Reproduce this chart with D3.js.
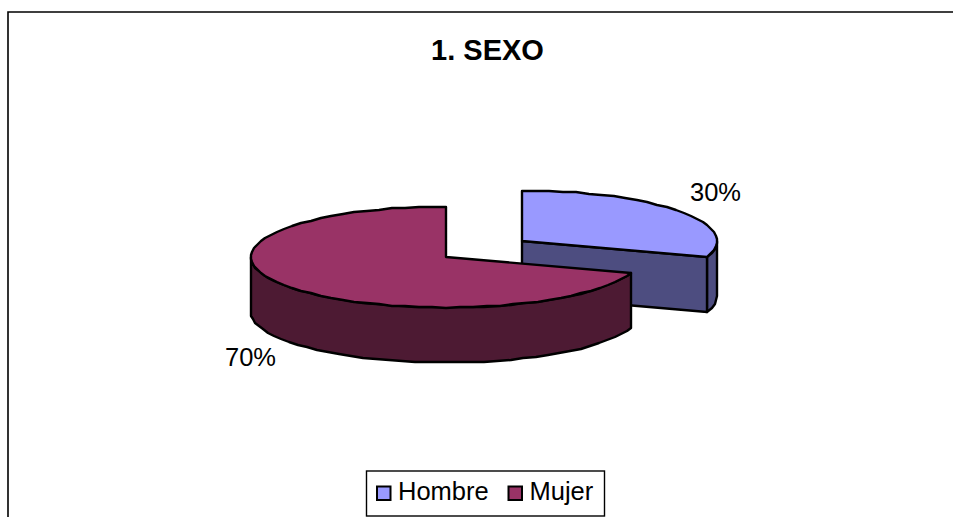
<!DOCTYPE html>
<html><head><meta charset="utf-8">
<script src="https://cdn.jsdelivr.net/npm/d3@7"></script>
<style>html,body{margin:0;background:#fff}svg{display:block}text{font-family:"Liberation Sans",Arial,sans-serif;fill:#000}</style>
</head><body><svg id="c" width="953" height="517"></svg>
<script>
const title = "1. SEXO";
const categories = ["Hombre", "Mujer"];
const values = [30, 70];
const labels = ["30%", "70%"];
const topColors = ["#9999ff", "#993366"];
const sideColors = ["#4d4d80", "#4d1a33"];

const svg = d3.select("#c");
svg.append("path").attr("d", "M8,517V12H953").attr("fill", "none")
  .attr("stroke", "#000").attr("stroke-width", 1.6);
svg.append("text").attr("x", 487.5).attr("y", 60).attr("text-anchor", "middle")
  .attr("font-weight", "bold").attr("font-size", 29).text(title);

const rx = 195, ry = 50.5, depth = 55;
const centers = [[522, 241], [446, 257]];
const arcs = d3.pie().sort(null).value(d => d)(values);
const line = d3.line().curve(d3.curveLinear);
const project = (c, a, dz = 0) => [Math.round(c[0] + rx * Math.sin(a)), Math.round(c[1] - ry * Math.cos(a)) + dz];
const sample = (a0, a1) => {
  const n = Math.max(2, Math.round(Math.abs(a1 - a0) / 0.07));
  return d3.range(n + 1).map(i => a0 + (a1 - a0) * i / n);
};
const stroke = g => g.attr("stroke", "#000").attr("stroke-width", 2.4).attr("stroke-linejoin", "round");

arcs.forEach((d, i) => {
  const c = centers[i], g = svg.append("g");
  const a0 = d.startAngle, a1 = d.endAngle;
  const paths = [];
  if (i === 0) {
    const s = sample(Math.PI / 2, a1);
    paths.push([...s.map(a => project(c, a)), ...s.slice().reverse().map(a => project(c, a, depth))]);
    const e = project(c, a1);
    paths.push([c, e, [e[0], e[1] + depth], [c[0], c[1] + depth]]);
  } else {
    const s = sample(a0, Math.min(a1, 3 * Math.PI / 2));
    paths.push([...s.map(a => project(c, a)), ...s.slice().reverse().map(a => project(c, a, depth))]);
  }
  paths.forEach(p => g.append("path").attr("d", line(p) + "Z").attr("fill", sideColors[i]).call(stroke));
  g.append("path").attr("d", line([c, ...sample(a0, a1).map(a => project(c, a))]) + "Z")
    .attr("fill", topColors[i]).call(stroke);
});

svg.append("text").attr("x", 715.5).attr("y", 200.5).attr("text-anchor", "middle").attr("font-size", 25.5).text(labels[0]);
svg.append("text").attr("x", 250.5).attr("y", 366).attr("text-anchor", "middle").attr("font-size", 25.5).text(labels[1]);

svg.append("rect").attr("x", 366.5).attr("y", 471).attr("width", 238).attr("height", 45)
  .attr("fill", "#fff").attr("stroke", "#000").attr("stroke-width", 1.4);
const legendX = d3.scaleOrdinal().domain(categories).range([377, 508.5]);
categories.forEach((n, i) => {
  svg.append("rect").attr("x", legendX(n)).attr("y", 486.5).attr("width", 13.5).attr("height", 13.5)
    .attr("fill", topColors[i]).attr("stroke", "#000").attr("stroke-width", 2);
  svg.append("text").attr("x", legendX(n) + 21).attr("y", 499.5).attr("font-size", 25.5).text(n);
});
</script></body></html>
